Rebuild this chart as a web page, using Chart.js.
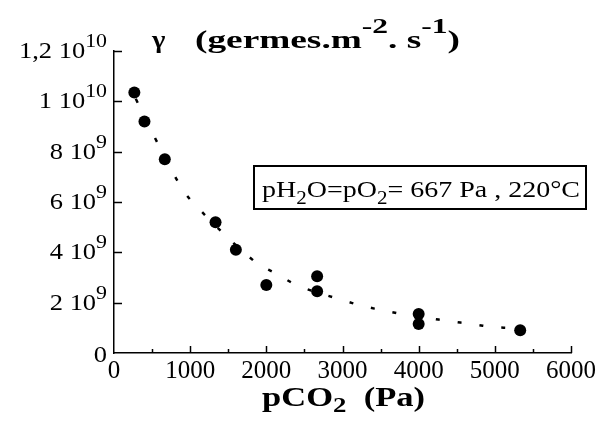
<!DOCTYPE html>
<html>
<head>
<meta charset="utf-8">
<script src="https://cdn.jsdelivr.net/npm/chart.js@4"></script>
<style>
  html, body { margin: 0; padding: 0; background: #fff; }
  #wrap { width: 601px; height: 421px; }
</style>
</head>
<body>
<div id="wrap"><canvas id="myChart"></canvas></div>
<script>
// measured points : pCO2 (Pa) and nucleation rate gamma (germes.m-2.s-1)
const pco2 = [267, 400, 667, 1333, 1600, 2000, 2667, 2667, 4000, 4000, 5333];
const gamma = [10.35e9, 9.2e9, 7.7e9, 5.2e9, 4.1e9, 2.7e9, 3.05e9, 2.45e9, 1.55e9, 1.15e9, 0.9e9];

// dotted fit curve
const fitX = [286, 564, 866, 1076, 1837, 2139, 2428, 2992, 3268, 3570, 3845, 4121, 4396, 4698, 4987, 5249];
const fitY = [10.1e9, 8.39e9, 6.68e9, 5.85e9, 3.66e9, 3.14e9, 2.66e9, 2.11e9, 1.87e9, 1.67e9, 1.51e9, 1.39e9, 1.27e9, 1.15e9, 1.03e9, 0.99e9];

// y tick labels : mantissa and power of ten
const yTickMant = ["0", "2", "4", "6", "8", "1", "1,2"];
const yTickExp = ["", "9", "9", "9", "9", "10", "10"];

const SERIF = '"Liberation Serif", serif';

// draw a row of text pieces : [text, size, bold, dy]
const drawRuns = (ctx, x, y, parts, sx, align, fitW) => {
  ctx.save();
  let w = 0;
  const widths = parts.map((p) => {
    ctx.font = (p[2] ? "bold " : "") + p[1] + "px " + SERIF;
    const m = ctx.measureText(p[0]).width;
    w += m;
    return m;
  });
  if (fitW) sx = fitW / w;
  let start = x;
  if (align === "right") start = x - w * sx;
  if (align === "center") start = x - (w * sx) / 2;
  ctx.translate(start, y);
  ctx.scale(sx, 1);
  ctx.fillStyle = "#000";
  ctx.textBaseline = "alphabetic";
  let cx = 0;
  parts.forEach((p, i) => {
    ctx.font = (p[2] ? "bold " : "") + p[1] + "px " + SERIF;
    ctx.fillText(p[0], cx, p[3] || 0);
    cx += widths[i];
  });
  ctx.restore();
};

const decor = {
  id: "decor",
  afterDraw(chart) {
    const ctx = chart.ctx;
    const xs = chart.scales.x;
    const ys = chart.scales.y;
    const area = chart.chartArea;
    ctx.save();
    ctx.strokeStyle = "#000";
    ctx.lineWidth = 1.5;

    // inward ticks on y axis + labels with powers of ten
    ys.ticks.forEach((t, i) => {
      const py = Math.round(ys.getPixelForValue(t.value)) + 0.5;
      if (i > 0) {
        ctx.beginPath();
        ctx.moveTo(area.left, py);
        ctx.lineTo(area.left + 8, py);
        ctx.stroke();
      }
      const exp = yTickExp[i];
      if (exp) {
        drawRuns(ctx, 107, py + 6, [[yTickMant[i] + " 10", 23, false, 0], [exp, 19, false, -11]], 1.15, "right");
      } else {
        drawRuns(ctx, 107, py + 8, [[yTickMant[i], 23, false, 0]], 1.15, "right");
      }
    });

    // inward ticks on x axis, major and minor
    xs.ticks.forEach((t, i) => {
      const px = Math.round(xs.getPixelForValue(t.value)) + 0.5;
      if (i > 0) {
        ctx.beginPath();
        ctx.moveTo(px, area.bottom);
        ctx.lineTo(px, area.bottom - 7);
        ctx.stroke();
      }
      if (i < xs.ticks.length - 1) {
        const mx = Math.round(xs.getPixelForValue(t.value + 500)) + 0.5;
        ctx.beginPath();
        ctx.moveTo(mx, area.bottom);
        ctx.lineTo(mx, area.bottom - 4);
        ctx.stroke();
      }
    });

    // y title
    drawRuns(ctx, 152, 48, [["γ", 26, true, 0]], 1.1, "left");
    drawRuns(ctx, 195, 48, [
      ["(germes.m", 26, true, 0],
      ["-2", 22, true, -15],
      [". s", 26, true, 0],
      ["-1", 22, true, -15],
      [")", 26, true, 0],
    ], 1, "left", 265);

    // x title
    drawRuns(ctx, 262, 406, [
      ["pCO", 27, true, 0],
      ["2", 21, true, 6],
      ["  (Pa)", 27, true, 0],
    ], 1, "left", 163);

    // conditions box
    ctx.lineWidth = 2;
    ctx.strokeRect(254, 166, 332, 43);
    drawRuns(ctx, 262, 197, [
      ["pH", 24, false, 0],
      ["2", 18, false, 7],
      ["O=pO", 24, false, 0],
      ["2", 18, false, 7],
      ["= 667 Pa , 220°C", 24, false, 0],
    ], 1, "left", 318);
    ctx.restore();
  },
};

const ctx = document.getElementById("myChart").getContext("2d");
new Chart(ctx, {
  type: "scatter",
  data: {
    datasets: [
      {
        data: pco2.map((x, i) => ({ x: x, y: gamma[i] })),
        backgroundColor: "#000",
        borderWidth: 0,
        pointRadius: 6,
        order: 1,
      },
      {
        data: fitX.map((x, i) => ({ x: x, y: fitY[i] })),
        showLine: true,
        pointRadius: 0,
        borderColor: "#000",
        borderWidth: 2.5,
        borderDash: [4, 18],
        tension: 0.4,
        order: 2,
      },
    ],
  },
  options: {
    responsive: true,
    maintainAspectRatio: false,
    animation: false,
    layout: { padding: { top: 51, right: 30, left: 0, bottom: 0 } },
    plugins: {
      legend: { display: false },
      tooltip: { enabled: false },
    },
    scales: {
      x: {
        min: 0,
        max: 6000,
        ticks: {
          stepSize: 1000,
          color: "#000",
          padding: -5,
          maxRotation: 0,
          font: { family: SERIF, size: 25 },
          callback: (v) => String(v),
        },
        grid: { display: false },
        border: { display: true, color: "#000", width: 1.5 },
        afterFit: (scale) => { scale.height = 68; },
      },
      y: {
        min: 0,
        max: 1.2e10,
        ticks: { stepSize: 2e9, display: false },
        grid: { display: false },
        border: { display: true, color: "#000", width: 1.5 },
        afterFit: (scale) => { scale.width = 114; },
      },
    },
  },
  plugins: [decor],
});
</script>
</body>
</html>
